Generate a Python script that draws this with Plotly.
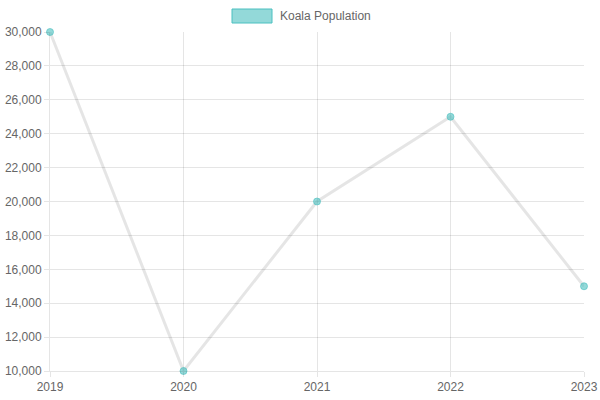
import plotly.graph_objects as go

YEARS = [2019, 2020, 2021, 2022, 2023]
POPULATION = [30000, 10000, 20000, 25000, 15000]
SERIES_NAME = 'Koala Population'

TEAL = 'rgba(75, 192, 192, 1)'
TEAL_FILL = 'rgba(75, 192, 192, 0.6)'
GRID = 'rgba(0, 0, 0, 0.1)'
FONT = dict(family='Liberation Sans, Arial, sans-serif', size=12, color='#666')

fig = go.Figure(
    data=[
        go.Scatter(
            x=YEARS,
            y=POPULATION,
            mode='lines+markers',
            name=SERIES_NAME,
            line={'color': 'rgba(0, 0, 0, 0.1)', 'width': 3},
            marker={'color': TEAL_FILL, 'size': 7,
                    'line': {'color': 'rgba(75, 192, 192, 0.6)', 'width': 1}},
            cliponaxis=False,
            showlegend=False,
        )
    ]
)

# chart.js style legend: wide swatch + label
fig.add_shape(
    type='rect', xref='paper', yref='paper',
    x0=(232 - 50) / 534, x1=(272 - 50) / 534,
    y0=1 + (32 - 9) / 339, y1=1 + (32 - 23) / 339,
    fillcolor=TEAL_FILL, line={'color': TEAL, 'width': 1},
)
fig.add_annotation(
    text=SERIES_NAME, xref='paper', yref='paper',
    x=(278 - 50) / 534, y=1 + (32 - 16) / 339,
    xanchor='left', yanchor='middle', showarrow=False, font=FONT,
)

axis_common = dict(
    showgrid=True, gridcolor=GRID, gridwidth=1,
    showline=True, linecolor=GRID, linewidth=1,
    ticks='outside', ticklen=5, tickcolor=GRID,
    zeroline=False, tickfont=FONT, automargin=False,
)

fig.update_xaxes(range=[2019, 2023], tickvals=YEARS, ticktext=[str(y) for y in YEARS], **axis_common)
fig.update_yaxes(range=[10000, 30000], dtick=2000, tickformat=',', **axis_common)

fig.update_layout(
    width=600, height=400,
    margin=dict(l=50, r=16, t=32, b=29),
    paper_bgcolor='white', plot_bgcolor='white',
    font=FONT,
)

# drop the default 8px body margin so the 600x400 figure fills the window
fig.write_html('out.html', config={'displayModeBar': False},
               post_script="document.body.style.margin='0';")
